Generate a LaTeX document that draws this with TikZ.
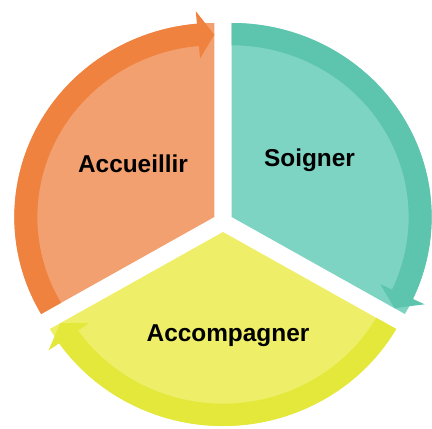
\documentclass[tikz,border=0pt]{standalone}
\usepackage{fontspec}
\setmainfont{Liberation Sans}
\usetikzlibrary{calc}
\definecolor{orangefill}{HTML}{F3A071}
\definecolor{orangeband}{HTML}{F0823F}
\definecolor{tealfill}{HTML}{7ED4C3}
\definecolor{tealband}{HTML}{5DC5AE}
\definecolor{yellowfill}{HTML}{EEEE68}
\definecolor{yellowband}{HTML}{E3E83A}
\begin{document}
\begin{tikzpicture}[x=1pt,y=1pt]
\def\rx{200}
\def\ry{194}
\def\gap{10}
\tikzset{sector/.style={draw=none},
band/.style={draw=none},
label/.style={font=\fontsize{24.4}{29}\selectfont\bfseries,anchor=base}}
% sector: corner, start angle, end angle, fill, band colour
\def\cyclesector#1#2#3#4#5{%
\fill[sector,#4] (#1) -- ($(#1)+(#2:\rx pt and \ry pt)$)
  arc[start angle=#2,end angle=#3,x radius=\rx pt,y radius=\ry pt] -- cycle;
\fill[band,#5] ($(#1)+(#2:\rx pt and \ry pt)$)
  arc[start angle=#2,end angle=#3+5,x radius=\rx pt,y radius=\ry pt]
  -- ($(#1)+(#3+5:1.065*\rx pt and 1.065*\ry pt)$)
  -- ($(#1)+(#3:0.94*\rx pt and 0.94*\ry pt)$)
  -- ($(#1)+(#3+5:0.82*\rx pt and 0.82*\ry pt)$)
  -- ($(#1)+(#3+5:0.885*\rx pt and 0.885*\ry pt)$)
  arc[start angle=#3+5,end angle=#2,x radius=0.885*\rx pt,y radius=0.885*\ry pt]
  -- cycle;}
\useasboundingbox (0,0) rectangle (432,429);
\coordinate (C) at (223,207);
\coordinate (OA) at ($(C)+(150:\gap)$);
\coordinate (OS) at ($(C)+(30:\gap)$);
\coordinate (OC) at ($(C)+(270:\gap)$);
\cyclesector{OA}{210}{90}{orangefill}{orangeband}
\cyclesector{OS}{90}{-30}{tealfill}{tealband}
\cyclesector{OC}{-30}{-150}{yellowfill}{yellowband}
\node[label] (accueillir) at (133,256) {Accueillir};
\node[label] (soigner) at (309.5,262) {Soigner};
\node[label] (accompagner) at (228,87) {Accompagner};
\end{tikzpicture}
\end{document}
